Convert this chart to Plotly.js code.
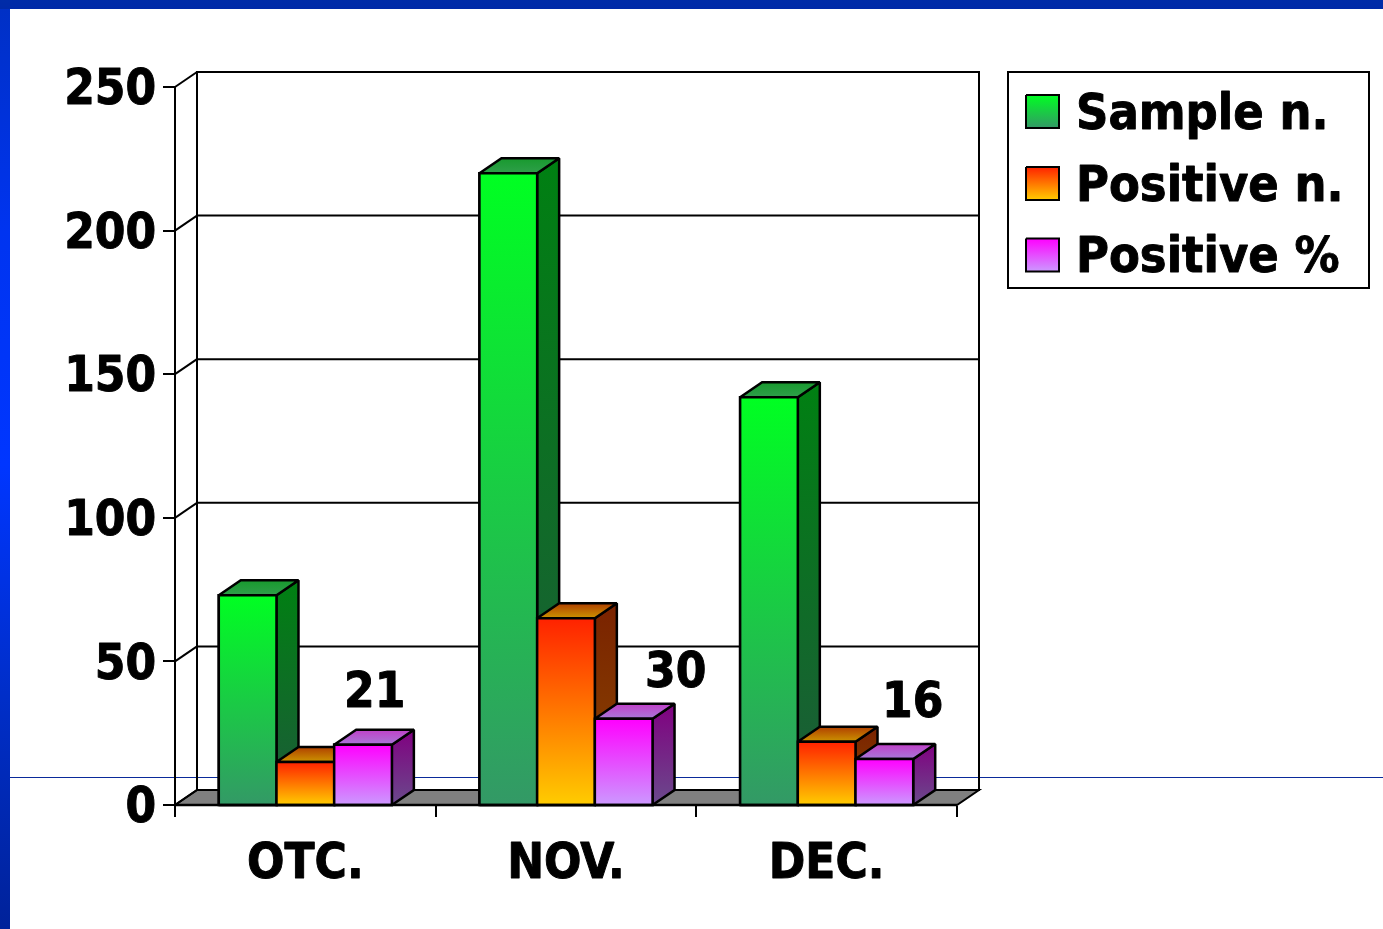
<!DOCTYPE html>
<html><head><meta charset="utf-8">
<script src="https://cdn.plot.ly/plotly-3.0.1.min.js"></script>
<style>html,body{margin:0;padding:0;background:#fff;overflow:hidden}#chart{width:1383px;height:929px}
svg text{stroke:#000;stroke-width:0.9px;stroke-linejoin:round}</style>
</head><body><div id="chart"></div>
<script>
// ---------- data ----------
const categories = ['OTC.', 'NOV.', 'DEC.'];
const seriesNames = ['Sample n.', 'Positive n.', 'Positive %'];
const sampleN = [73, 220, 142];
const positiveN = [15, 65, 22];
const positivePct = [21, 30, 16];
const yTickVals = [0, 50, 100, 150, 200, 250];
const yTickText = ['0', '50', '100', '150', '200', '250'];

// ---------- layout constants (pixels) ----------
const W = 1383, H = 929;
const FX0 = 175, FX1 = 957, FY0 = 805, FYTOP = 87;   // front plane
const DXP = 22, DYP = 15;                             // 3D depth
const PAD = 8;
const FONT = 'DejaVu Sans Condensed, DejaVu Sans, sans-serif';
const FS = 49;
const labelShift = [[11, 54], [52, 48], [28, 59]];    // data-label offsets (px)

const seriesValues = [sampleN, positiveN, positivePct];
const nCat = categories.length;
const yMax = yTickVals[yTickVals.length - 1];
const ux = (FX1 - FX0) / nCat;
const uy = (FY0 - FYTOP) / yMax;
const ddx = DXP / ux, ddy = DYP / uy;
const xLo = -0.5, xHi = nCat - 0.5;
const pL = FX0 - PAD, pR = FX1 + DXP + PAD, pT = FYTOP - DYP - PAD, pB = FY0 + PAD;
const xRange = [xLo - PAD / ux, xHi + ddx + PAD / ux];
const yRange = [-PAD / uy, yMax + ddy + PAD / uy];
const barW = (1 - 0.336) / 3;

const colors = [
  {front: ['#339966', '#00ff22'], side: ['#1d5a3a', '#008012'], top: ['#2f9f4a', '#189a2e'], mid: '#1acc44'},
  {front: ['#ffcc00', '#ff2200'], side: ['#8a4800', '#7a2200'], top: ['#cc9400', '#b04000'], mid: '#ff7700'},
  {front: ['#cc99ff', '#ff00ff'], side: ['#6a4a8c', '#800080'], top: ['#a878d8', '#c040c8'], mid: '#e466ff'}
];
const grad = (c) => ({type: 'vertical', colorscale: c.map((col, k) => [k / (c.length - 1), col])});

const traces = [];
// underlying bar traces (front faces)
seriesValues.forEach((vals, s) => {
  traces.push({
    type: 'bar', name: seriesNames[s], x: categories.map((c, i) => i), y: vals,
    width: barW, offset: (s - 1.5) * barW,
    marker: {color: colors[s].mid, line: {color: '#000', width: 2.5}},
    showlegend: false, hoverinfo: 'skip', xaxis: 'x', yaxis: 'y'
  });
});
// 3D faces
function poly(xs, ys, g) {
  return {type: 'scatter', mode: 'lines', x: xs.concat([xs[0]]), y: ys.concat([ys[0]]),
    fill: 'toself', fillgradient: grad(g), line: {color: '#000', width: 2.5},
    hoverinfo: 'skip', showlegend: false, xaxis: 'x', yaxis: 'y'};
}
for (let i = 0; i < nCat; i++) {
  for (let s = 0; s < seriesValues.length; s++) {
    const v = seriesValues[s][i];
    const x0 = i + (s - 1.5) * barW, x1 = x0 + barW;
    traces.push(poly([x1, x1 + ddx, x1 + ddx, x1], [0, ddy, v + ddy, v], colors[s].side));
    traces.push(poly([x0, x1, x1 + ddx, x0 + ddx], [v, v, v + ddy, v + ddy], colors[s].top));
    traces.push(poly([x0, x1, x1, x0], [0, 0, v, v], colors[s].front));
  }
}
// pixel overlay: blue frame + legend swatches (gradient 0 = bottom of screen)
function pxPoly(xs, ys, g, lw) {
  return {type: 'scatter', mode: 'lines', x: xs.concat([xs[0]]), y: ys.concat([ys[0]]),
    fill: 'toself', fillgradient: grad(g), line: {color: '#000', width: lw},
    hoverinfo: 'skip', showlegend: false, xaxis: 'x2', yaxis: 'y2'};
}
traces.push(pxPoly([0, 10, 10, 0], [0, 0, H, H], ['#00229a', '#002ec8', '#0036ff', '#0034f0', '#0030c4'], 0));
traces.push(pxPoly([0, W, W, 0], [0, 0, 9, 9], ['#002aa8', '#002ca8'], 0));

const legRowY = [111.5, 183.5, 255];
const annotations = [];
const shapes = [];
shapes.push({type: 'rect', xref: 'x2', yref: 'y2', x0: 1008, x1: 1369, y0: 72, y1: 288,
  line: {color: '#000', width: 2}, fillcolor: '#fff', layer: 'below'});
seriesNames.forEach((nm, s) => {
  const cy = legRowY[s];
  traces.push(pxPoly([1026, 1059, 1059, 1026], [cy - 16.5, cy - 16.5, cy + 16.5, cy + 16.5],
    colors[s].front, 2));
  annotations.push({xref: 'x2', yref: 'y2', x: 1074, y: cy, xanchor: 'left', yanchor: 'middle',
    text: nm, showarrow: false, font: {family: FONT, size: 50, color: '#000', weight: 'bold'}});
});

// frame shapes in data coords
const L = {color: '#000', width: 2};
shapes.push({type: 'path', xref: 'x', yref: 'y', layer: 'below', fillcolor: '#808080', line: L,
  path: `M${xLo},0 L${xHi},0 L${xHi + ddx},${ddy} L${xLo + ddx},${ddy} Z`});
shapes.push({type: 'rect', xref: 'x', yref: 'y', layer: 'below', line: L,
  x0: xLo + ddx, x1: xHi + ddx, y0: ddy, y1: yMax + ddy});
yTickVals.forEach(v => {
  if (v > 0 && v < yMax) shapes.push({type: 'line', xref: 'x', yref: 'y', layer: 'below', line: L,
    x0: xLo + ddx, x1: xHi + ddx, y0: v + ddy, y1: v + ddy});
  shapes.push({type: 'line', xref: 'x', yref: 'y', layer: 'below', line: L,
    x0: xLo, x1: xLo + ddx, y0: v, y1: v + ddy});
});
shapes.push({type: 'line', xref: 'x', yref: 'y', layer: 'below', line: L, x0: xLo, x1: xLo, y0: 0, y1: yMax});
shapes.push({type: 'line', xref: 'x', yref: 'y', layer: 'above', line: {color: '#000', width: 2.5}, x0: xLo, x1: xHi, y0: 0, y1: 0});
// thin blue slide line
shapes.push({type: 'line', xref: 'paper', yref: 'paper', layer: 'below', line: {color: '#0a2a9a', width: 1},
  x0: 10 / W, x1: 1, y0: 1 - 777.5 / H, y1: 1 - 777.5 / H});

// data labels for Positive %
positivePct.forEach((v, i) => {
  annotations.push({xref: 'x', yref: 'y', x: i + 1 * barW, y: v, xanchor: 'center', yanchor: 'middle',
    xshift: labelShift[i][0], yshift: labelShift[i][1], text: String(v), showarrow: false,
    font: {family: FONT, size: FS, color: '#000', weight: 'bold'}});
});

const layout = {
  width: W, height: H, margin: {l: 0, r: 0, t: 0, b: 0},
  paper_bgcolor: '#fff', plot_bgcolor: 'rgba(0,0,0,0)', showlegend: false, barmode: 'overlay',
  xaxis: {domain: [pL / W, pR / W], range: xRange, anchor: 'free', position: 1 - FY0 / H,
    tickvals: categories.map((c, i) => i), ticktext: categories, ticks: '', showgrid: false,
    zeroline: false, showline: false, ticklabelstandoff: 23,
    tickfont: {family: FONT, size: FS, color: '#000', weight: 'bold'},
    minor: {tickvals: [-0.5, 0.5, 1.5, 2.5], ticks: 'outside', ticklen: 11, tickwidth: 2, tickcolor: '#000', showgrid: false}},
  yaxis: {domain: [1 - pB / H, 1 - pT / H], range: yRange, anchor: 'free', position: FX0 / W,
    tickvals: yTickVals, ticktext: yTickText, ticks: 'outside', ticklen: 12, tickwidth: 2, tickcolor: '#000',
    showgrid: false, zeroline: false, showline: false, ticklabelstandoff: -3,
    tickfont: {family: FONT, size: FS, color: '#000', weight: 'bold'}},
  xaxis2: {domain: [0, 1], range: [0, W], anchor: 'y2', visible: false, fixedrange: true},
  yaxis2: {domain: [0, 1], range: [H, 0], anchor: 'x2', visible: false, fixedrange: true},
  shapes: shapes, annotations: annotations
};
Plotly.newPlot('chart', traces, layout, {staticPlot: true, displayModeBar: false});
</script></body></html>
